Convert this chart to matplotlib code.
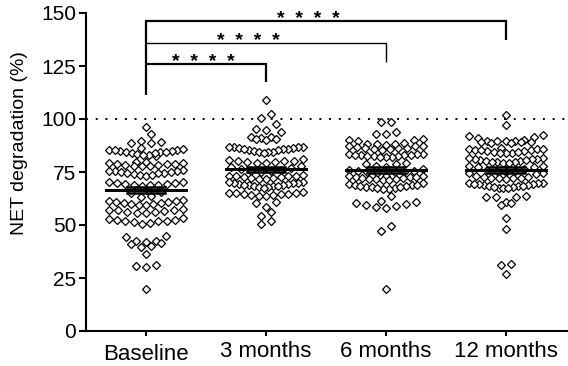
import numpy as np
import matplotlib
matplotlib.use("Agg")
import matplotlib.pyplot as plt

plt.rcParams['font.family'] = ['Liberation Sans', 'DejaVu Sans']

# Grupos del eje x
groups = ["Baseline", "3 months", "6 months", "12 months"]

# Valores (NET degradation, %)
baseline = [96.2, 92.8,
            89.8, 88.8, 88.9, 89.3,
            86.3, 85.4,
            85.8, 85.5, 85.1, 84.8, 84.4, 84.0, 83.6, 83.2, 82.9, 82.6, 84.2, 83.8, 85.3, 84.6,
            79.8, 79.4, 79.1, 78.8, 78.4, 78.0, 77.7, 78.6, 79.0, 79.6, 77.9, 78.2,
            75.9, 75.5, 75.1, 74.7, 74.3, 74.0, 73.6, 73.3, 75.3, 74.9, 74.5, 73.8, 75.7,
            70.4, 70.0, 69.7, 69.3, 69.0, 68.7, 68.4, 70.2, 69.5, 68.9,
            65.4, 64.9, 63.6, 63.1,
            61.6, 61.2, 60.8, 60.5, 60.2, 59.8, 59.4, 61.0, 60.0, 59.2, 61.4,
            57.7, 57.3, 56.9, 56.5, 56.1, 55.8, 55.5, 57.0, 56.3,
            53.1, 52.7, 52.3, 51.9, 51.5, 51.1, 50.7, 52.0, 51.7, 52.5,
            44.8, 44.5, 42.6, 42.3, 41.8, 41.3, 41.0, 40.2, 39.4,
            36.3, 30.0, 30.8, 31.2, 19.7]

months_3 = [108.8, 102.2, 100.7, 97.8, 95.2, 94.8, 93.9,
            91.6, 91.3, 91.0, 90.8, 90.4, 90.0,
            87.0, 86.8, 86.6, 86.4, 86.2, 86.0, 85.8, 85.5, 85.2, 84.9, 84.6, 84.4, 84.2, 84.0, 86.9, 85.9,
            80.9, 80.6, 80.3, 80.0, 79.7, 79.4, 79.1, 80.4, 79.9,
            77.6, 77.2, 76.8, 76.4, 76.0, 75.7, 75.4, 75.0,
            73.6, 73.3, 73.0, 72.7, 72.4, 72.1, 71.8, 73.1, 72.5, 72.9, 71.9,
            70.3, 70.0, 69.8, 69.5, 69.3, 69.0, 68.8, 68.5, 68.3, 68.0, 67.8, 69.9, 69.1, 68.6, 70.1, 67.6,
            65.6, 65.3, 65.0, 64.7, 64.4, 64.1, 63.8, 65.1, 64.6, 64.3, 63.6,
            61.0, 60.5, 58.4, 56.0, 54.4, 52.0, 50.6]

months_6 = [98.8, 98.4,
            93.7, 93.1, 92.7,
            90.6, 90.2, 89.9, 89.6,
            88.6, 88.3, 88.0, 87.7, 87.4, 87.1, 86.8, 86.5, 86.2, 85.9, 85.6, 88.1, 87.2, 86.4, 85.8,
            83.6, 83.3, 83.0, 82.8, 82.5, 82.2, 81.9, 83.4, 82.9, 82.4, 82.0, 83.1, 82.6,
            79.4, 79.0, 78.7, 77.8, 77.4,
            76.3, 76.0, 75.7, 75.4, 75.1, 74.8, 74.5, 74.9,
            73.3, 73.0, 72.7, 72.4, 72.1, 71.8, 71.5, 71.2, 73.1, 72.5, 71.9, 71.4, 72.8,
            69.6, 69.3, 69.0, 68.7, 68.4, 68.1, 67.8, 67.5, 67.2, 66.9, 69.1, 68.5, 67.9, 67.4,
            63.9,
            61.2, 60.8, 60.3, 59.9, 59.4, 59.0, 58.6, 58.1,
            49.7, 47.0, 19.9]

months_12 = [101.7, 97.0,
             92.3, 91.8, 91.5, 91.2,
             90.0, 89.8, 89.6, 89.4, 89.2, 89.0, 88.8, 88.6, 89.5, 89.1,
             86.2, 85.9, 85.6, 85.3, 85.0, 84.7, 84.4, 84.1, 83.8, 85.8, 85.2, 84.6, 84.0, 86.0,
             81.6, 81.3, 81.0, 80.7, 80.4, 80.1, 79.8, 79.5, 79.2, 81.1, 80.5, 79.9, 79.4, 81.4,
             77.9, 77.6, 77.4, 77.2,
             76.2, 75.9, 75.6, 75.3, 75.0, 74.7, 74.4, 74.1,
             72.9, 72.6, 72.4, 72.2, 72.0, 71.8, 72.7, 72.1,
             70.0, 69.7, 69.4, 69.1, 68.8, 68.5, 68.2, 67.9, 67.6, 67.3, 69.9, 69.2, 68.6, 68.0, 67.5, 69.5,
             63.6, 63.4, 63.3, 63.1,
             61.0, 59.6, 60.4,
             53.3, 48.1,
             31.5, 31.3, 26.8]

series = [baseline, months_3, months_6, months_12]


def _row_offsets(values, row_h=3.0, step_px=10.0, max_px=74.0, px_per_unit=120.0):
    # Reparte los puntos en filas horizontales (estilo GraphPad):
    # el valor mas bajo de cada fila queda en el centro
    vals = np.asarray(values, dtype=float)
    order = np.argsort(-vals)
    xs = np.zeros(len(vals))
    rows = []
    cur = []
    top = None
    for i in order:
        if top is None or top - vals[i] > row_h:
            if cur:
                rows.append(cur)
            cur = [i]
            top = vals[i]
        else:
            cur.append(i)
    rows.append(cur)
    for row in rows:
        n = len(row)
        if n == 1:
            continue
        s = min(step_px, max_px / (n - 1))
        pos = (np.arange(n) - (n - 1) / 2.0) * s
        pos = pos[np.argsort(np.abs(pos), kind='stable')]
        row_sorted = sorted(row, key=lambda k: vals[k])
        for k, p in zip(row_sorted, pos):
            xs[k] = p / px_per_unit
    return xs


def main():
    fig = plt.figure(figsize=(5.68, 3.66), dpi=100)
    ax = fig.add_axes([86 / 568, 1 - 331 / 366, 1 - 86 / 568, (331 - 13) / 366])

    for i, vals in enumerate(series):
        xs = i + _row_offsets(vals)
        ax.plot(xs, vals, linestyle='none', marker='D', markersize=3.7,
                markerfacecolor='white', markeredgecolor='black',
                markeredgewidth=0.9, zorder=2)
        # media +- SEM
        m = np.mean(vals)
        sem = np.std(vals, ddof=1) / np.sqrt(len(vals))
        ax.plot([i - 0.33, i + 0.33], [m, m], color='black', lw=2.2, zorder=3)
        ax.plot([i, i], [m - sem, m + sem], color='black', lw=1.8, zorder=3)
        for e in (m - sem, m + sem):
            ax.plot([i - 0.16, i + 0.16], [e, e], color='black', lw=1.8, zorder=3)

    # linea punteada en 100 %
    ax.axhline(100, color='black', lw=1.4, linestyle=(0, (1, 4)), zorder=1)

    # corchetes de significancia
    k = dict(color='black', clip_on=False, solid_capstyle='butt', solid_joinstyle='miter')
    ax.plot([0, 0, 3, 3], [111.2, 146.2, 146.2, 137.2], lw=1.6, **k)
    ax.plot([0, 2, 2], [135.8, 135.8, 126.8], lw=1.0, **k)
    ax.plot([0, 1, 1], [125.9, 125.9, 117.4], lw=1.6, **k)
    for xc, yb in [(0.48, 124.6), (0.85, 134.5), (1.35, 145.0)]:
        ax.text(xc, yb, "*  *  *  *", ha='center', va='baseline',
                fontsize=14, fontweight='bold', clip_on=False)

    ax.set_xlim(-0.5, 3.517)
    ax.set_ylim(0, 150)
    ax.set_yticks(np.arange(0, 151, 25))
    ax.set_xticks(range(len(groups)))
    ax.set_xticklabels(groups, fontsize=16)
    ax.tick_params(axis='y', labelsize=15, length=5, width=1.5, pad=2)
    ax.tick_params(axis='x', length=3.5, width=1.5, pad=4)
    ax.xaxis.get_major_ticks()[0].set_pad(6)

    for s in ['top', 'right']:
        ax.spines[s].set_visible(False)
    for s in ['left', 'bottom']:
        ax.spines[s].set_linewidth(1.5)

    ax.set_ylabel("NET degradation (%)", fontsize=14)
    ax.yaxis.set_label_coords(-0.12, 0.59)

    fig.savefig("out.png", dpi=100)


if __name__ == '__main__':
    main()
